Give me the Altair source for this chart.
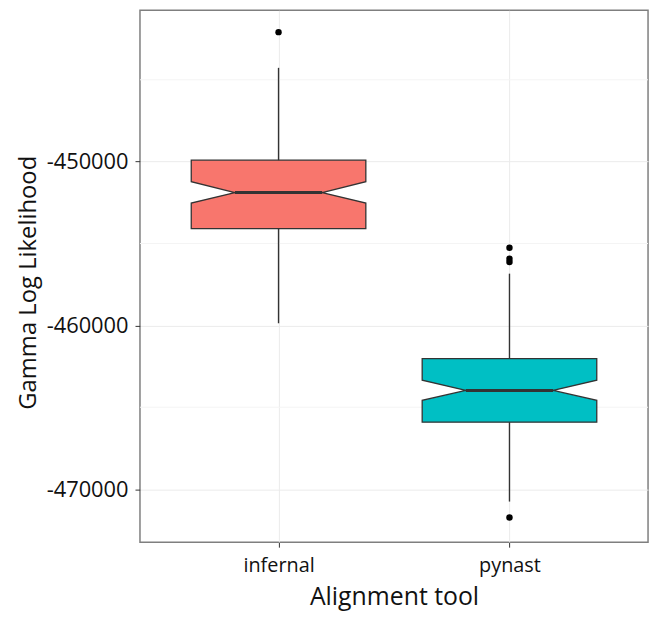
import altair as alt
import pandas as pd

# ---- data ----
tools = ["infernal", "pynast"]
tool_pos = [1, 2]
q1 = [-454090, -465910]
median = [-451890, -463970]
q3 = [-449910, -462030]
notch_low = [-452530, -464580]
notch_high = [-451220, -463350]
whisker_low = [-459870, -470760]
whisker_high = [-444270, -456840]
outlier_tool = ["infernal", "pynast", "pynast", "pynast", "pynast"]
outlier_value = [-442090, -455260, -455930, -456130, -471730]
fill_colors = ["#F8766D", "#00BFC4"]
major_ticks = [-470000, -460000, -450000]
minor_ticks = [-465000, -455000, -445000]
y_domain = [-473242, -440758]
x_domain = [0.4, 2.6]

BOX_HALF = 0.378
NOTCH_HALF = BOX_HALF * 0.5
LINE = "#333333"

# notched box outlines (built from the quartiles / notch values)
rows = []
for t, p, a, nl, m, nh, b in zip(tools, tool_pos, q1, notch_low, median, notch_high, q3):
    for v, h in [(a, BOX_HALF), (nl, BOX_HALF), (m, NOTCH_HALF), (nh, BOX_HALF), (b, BOX_HALF)]:
        rows.append({"tool": t, "y": v, "xl": p - h, "xr": p + h})
box_df = pd.DataFrame(rows)

stat_df = pd.DataFrame({
    "tool": tools, "pos": tool_pos, "q1": q1, "median": median, "q3": q3,
    "wlo": whisker_low, "whi": whisker_high,
    "ml": [p - NOTCH_HALF for p in tool_pos], "mr": [p + NOTCH_HALF for p in tool_pos],
})
pos_map = dict(zip(tools, tool_pos))
out_df = pd.DataFrame({"tool": outlier_tool, "value": outlier_value,
                       "pos": [pos_map[t] for t in outlier_tool]})
minor_df = pd.DataFrame({"v": minor_ticks})

label_expr = "[" + ",".join(f"'{t}'" for t in tools) + "][datum.value - 1]"

x_scale = alt.Scale(domain=x_domain, nice=False, zero=False)
y_scale = alt.Scale(domain=y_domain, nice=False, zero=False)

x_axis = alt.Axis(values=tool_pos, labelExpr=label_expr, title="Alignment tool",
                  grid=True, gridColor="#ebebeb", tickSize=5, labelPadding=9,
                  labelFontSize=20, titleFontSize=25,
                  titleY=63, titleBaseline="alphabetic")
y_axis = alt.Axis(values=major_ticks, labelExpr="'' + datum.value", title="Gamma Log Likelihood",
                  grid=True, gridColor="#ebebeb", tickSize=5, labelPadding=7,
                  labelFontSize=22, titleFontSize=24,
                  titleX=-105, titleY=274, titleBaseline="alphabetic", titleAngle=270)

minor = alt.Chart(minor_df).mark_rule(color="#f4f4f4", strokeWidth=1).encode(
    y=alt.Y("v:Q", scale=y_scale, axis=y_axis),
)

boxes = alt.Chart(box_df).mark_area(orient="horizontal", stroke=LINE, strokeWidth=1.3,
                                    opacity=1, fillOpacity=1).encode(
    y=alt.Y("y:Q", scale=y_scale, axis=y_axis),
    x=alt.X("xl:Q", scale=x_scale, axis=x_axis, stack=None),
    x2="xr:Q",
    color=alt.Color("tool:N", scale=alt.Scale(domain=tools, range=fill_colors), legend=None),
)

whisk_lo = alt.Chart(stat_df).mark_rule(color=LINE, strokeWidth=1.4).encode(
    x=alt.X("pos:Q", scale=x_scale), y=alt.Y("wlo:Q", scale=y_scale), y2="q1:Q")
whisk_hi = alt.Chart(stat_df).mark_rule(color=LINE, strokeWidth=1.4).encode(
    x=alt.X("pos:Q", scale=x_scale), y=alt.Y("q3:Q", scale=y_scale), y2="whi:Q")
med = alt.Chart(stat_df).mark_rule(color=LINE, strokeWidth=3).encode(
    x=alt.X("ml:Q", scale=x_scale), x2="mr:Q", y=alt.Y("median:Q", scale=y_scale))

outs = alt.Chart(out_df).mark_circle(color="black", size=42, opacity=1).encode(
    x=alt.X("pos:Q", scale=x_scale), y=alt.Y("value:Q", scale=y_scale))

chart = alt.layer(minor, boxes, whisk_lo, whisk_hi, med, outs).properties(
    width=512, height=536,
    autosize=alt.AutoSizeParams(type="none"),
    padding={"left": 133, "top": 0, "right": 5, "bottom": 70},
    background="white",
).configure_view(
    stroke="#7f7f7f", strokeWidth=1.5
).configure_axis(
    domain=False, tickColor=LINE, tickWidth=1,
    labelFont="Open Sans", labelColor="#111111",
    titleFont="Open Sans", titleFontWeight="normal", titleColor="#111111",
)

chart.save("out.html", embed_options={"renderer": "svg", "actions": False})
